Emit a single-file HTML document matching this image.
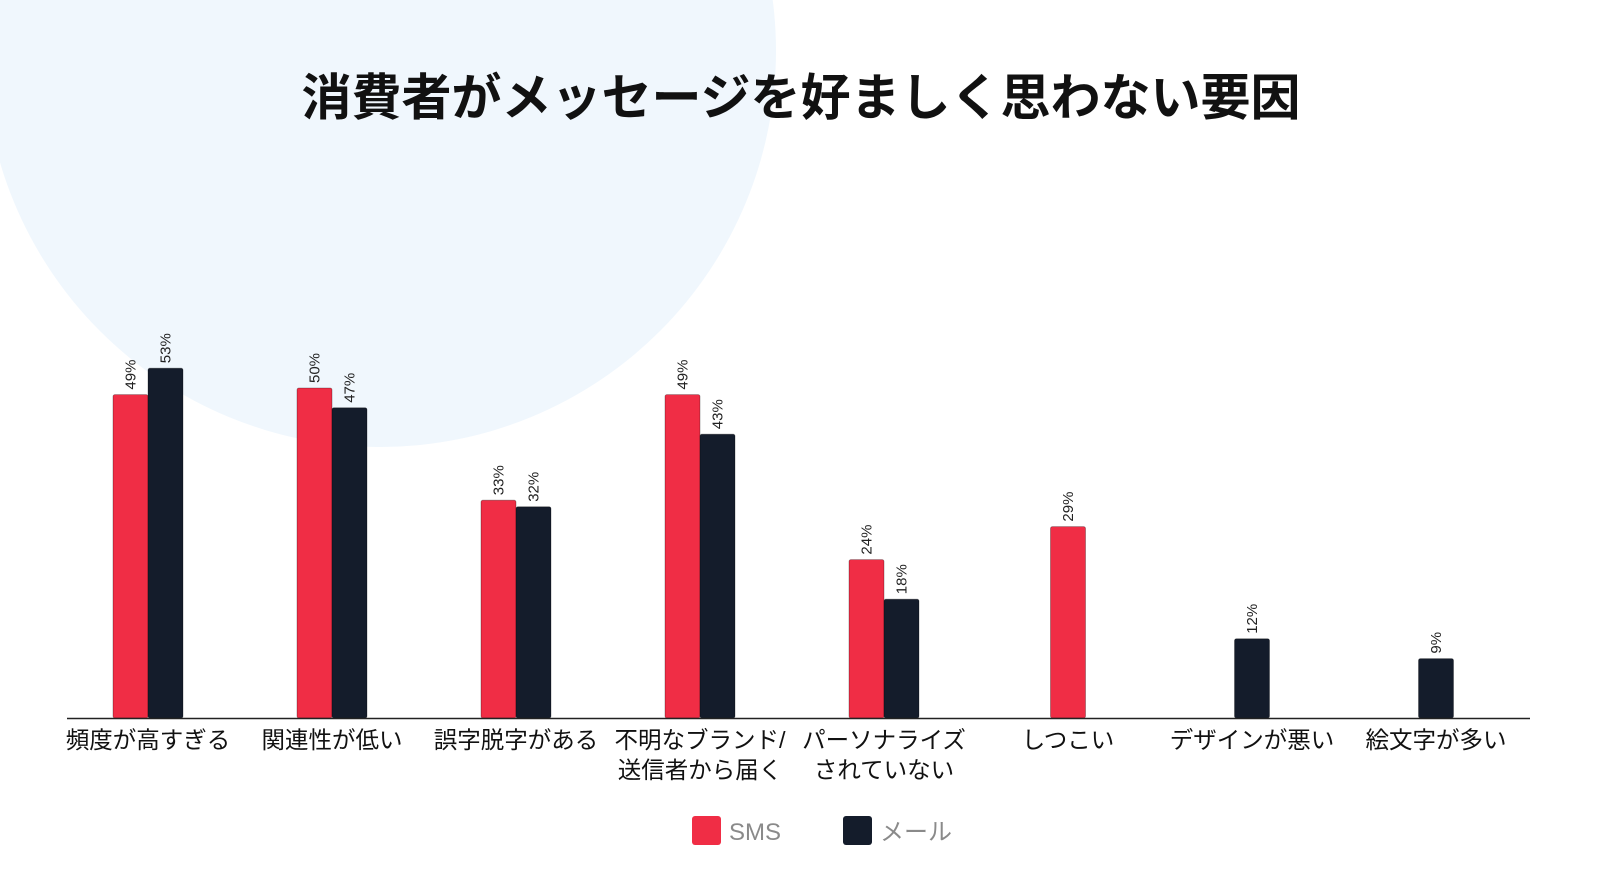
<!DOCTYPE html>
<html><head><meta charset="utf-8">
<style>
html,body{margin:0;padding:0;background:#fff;}
body{width:1600px;height:886px;overflow:hidden;position:relative;font-family:"Liberation Sans","Noto Sans CJK JP",sans-serif;}
</style></head>
<body>
<svg width="1600" height="886" viewBox="0 0 1600 886" xmlns="http://www.w3.org/2000/svg">
<circle cx="380" cy="51" r="396" fill="#f0f7fd"/>
<text x="801" y="115" text-anchor="middle" font-family="'Liberation Sans','Noto Sans CJK JP',sans-serif" font-weight="bold" font-size="50" fill="#111">消費者がメッセージを好ましく思わない要因</text>
<g id="bars"></g>
<line x1="67" y1="718.5" x2="1530" y2="718.5" stroke="#222" stroke-width="1.5"/>
<g id="labels"></g>
<g>
<rect x="692" y="816" width="29" height="29" rx="3" fill="#f02d45"/>
<text x="729" y="840" font-size="24" fill="#8a8a8a">SMS</text>
<rect x="843" y="816" width="29" height="29" rx="3" fill="#141c2b"/>
<text x="880" y="840" font-size="24" fill="#8a8a8a" font-family="'Liberation Sans','Noto Sans CJK JP',sans-serif">メール</text>
</g>
</svg>
<script>
const categories=[["頻度が高すぎる"],["関連性が低い"],["誤字脱字がある"],["不明なブランド/","送信者から届く"],["パーソナライズ","されていない"],["しつこい"],["デザインが悪い"],["絵文字が多い"]];
const smsValues=[49,50,33,49,24,29,null,null];
const mailValues=[53,47,32,43,18,null,12,9];
const NS="http://www.w3.org/2000/svg";
const baseY=718,pxPer=6.6,bandStart=148,band=184,bw=35;
function xCenter(i){return bandStart+i*band;}
function yScale(v){return baseY-v*pxPer;}
const gb=document.getElementById('bars'),gl=document.getElementById('labels');
function bar(x,v,color,name){
  const r=document.createElementNS(NS,'rect');
  r.setAttribute('x',x);r.setAttribute('y',yScale(v));r.setAttribute('width',bw);
  r.setAttribute('height',baseY-yScale(v));r.setAttribute('fill',color);r.setAttribute('rx',2);
  r.setAttribute('stroke','rgba(0,0,0,0.35)');r.setAttribute('stroke-width','0.8');
  
  
  gb.appendChild(r);
  const t=document.createElementNS(NS,'text');
  const tx=x+bw/2+5,ty=yScale(v)-5;
  t.setAttribute('transform','translate('+tx+','+ty+') rotate(-90)');
  t.setAttribute('font-size','15');t.setAttribute('fill','#222');
  t.textContent=v+'%';
  
  
  gb.appendChild(t);
}
categories.forEach((c,i)=>{
  const cx=xCenter(i);
  const s=smsValues[i],m=mailValues[i];
  if(s!=null&&m!=null){bar(cx-bw,s,'#f02d45','bar-sms-'+i);bar(cx,m,'#141c2b','bar-mail-'+i);}
  else if(s!=null){bar(cx-bw/2,s,'#f02d45','bar-sms-'+i);}
  else if(m!=null){bar(cx-bw/2,m,'#141c2b','bar-mail-'+i);}
  c.forEach((line,k)=>{
    const t=document.createElementNS(NS,'text');
    t.setAttribute('x',cx);t.setAttribute('y',748+k*30);
    t.setAttribute('text-anchor','middle');t.setAttribute('font-size','23.5');t.setAttribute('fill','#111');
    t.setAttribute('font-family',"'Liberation Sans','Noto Sans CJK JP',sans-serif");
    t.textContent=line;
    
    
    gl.appendChild(t);
  });
});
</script>
</body></html>
